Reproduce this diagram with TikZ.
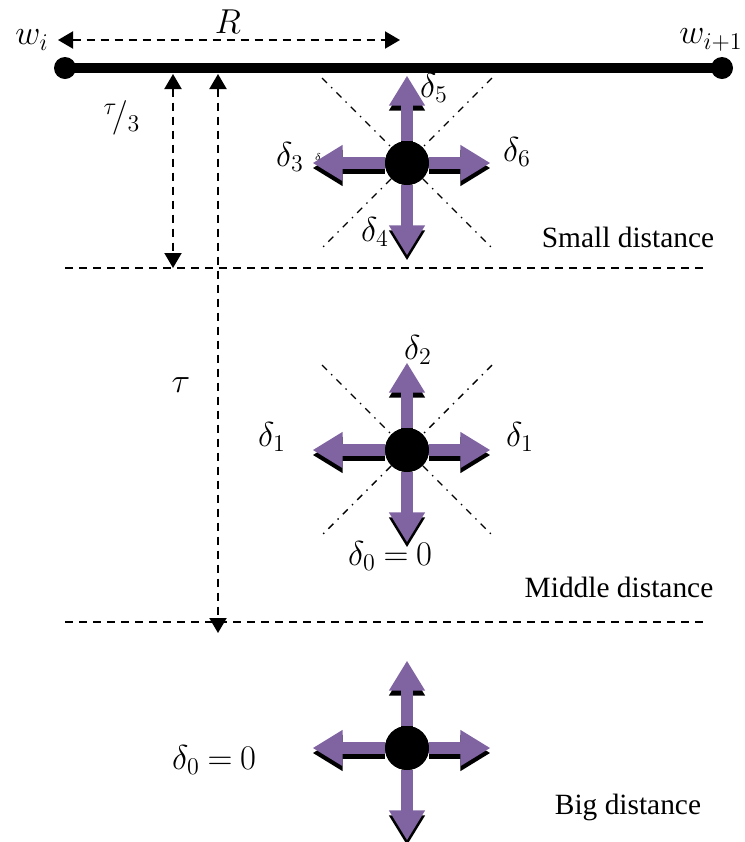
\documentclass[tikz,border=0pt]{standalone}
\usepackage{fontspec}
\setmainfont{Liberation Serif}
\usetikzlibrary{arrows.meta}
\definecolor{moveviolet}{RGB}{128,100,162}
\newcommand\zeroshift[1]{#1\mskip4mu{=}\mskip4mu 0}
\tikzset{
  dimline/.style={dash pattern=on 4pt off 3pt, line width=1pt,
    {Triangle[width=8.5pt,length=7.5pt]}-{Triangle[width=8.5pt,length=7.5pt]}},
  movearrow/.style={line width=6pt, -{Triangle[width=17pt,length=15pt]}},
  guide/.style={dash pattern=on 3.5pt off 3pt on 0.7pt off 3pt, line width=0.7pt},
  hub/.style={circle, fill=black, minimum size=22pt, inner sep=0pt},
  dot/.style={circle, fill=black, minimum size=11pt, inner sep=0pt},
  lbl/.style={font=\fontsize{14.7}{17}\selectfont, inner sep=0pt},
  mlbl/.style={font=\fontsize{18}{21}\selectfont, inner sep=0pt},
}
\begin{document}
\begin{tikzpicture}[x=0.5pt,y=-0.5pt]
  \useasboundingbox (0,0) rectangle (745,842);

  % segment w_i -- w_{i+1}
  \node[dot] (wi) at (65,68) {};
  \node[dot] (wj) at (722,68) {};
  \draw[line width=5pt] (wi.center) -- (wj.center);
  \node[mlbl] (lwi) at (32,40) {$w_i$};
  \node[mlbl] (lwj) at (711,40) {$w_{i+1}$};

  % radius R
  \coordinate (ra) at (58,40);
  \coordinate (rb) at (400,40);
  \draw[dimline] (ra) -- (rb);
  \node[mlbl] (lR) at (228,22) {$R$};

  % thresholds
  \coordinate (t3a) at (173,74);
  \coordinate (t3b) at (173,268);
  \coordinate (ta) at (218,74);
  \coordinate (tb) at (218,633);
  \draw[dimline] (t3a) -- (t3b);
  \draw[dimline] (ta) -- (tb);
  \node[mlbl] (lt3) at (122,118) {$^{\tau}\!/_{3}$};
  \node[mlbl] (lt) at (181,385) {$\tau$};

  \coordinate (s1) at (65,268);  \coordinate (s2) at (705,268);
  \coordinate (m1) at (65,622);  \coordinate (m2) at (705,622);
  \draw[dash pattern=on 4pt off 3pt, line width=1pt] (s1) -- (s2);
  \draw[dash pattern=on 4pt off 3pt, line width=1pt] (m1) -- (m2);

  % the three positions
  \foreach \n/\y in {cs/163, cm/450, cb/748}
    \node[hub] (\n) at (407,\y) {};

  \foreach \n in {cs, cm}{
    \draw[guide] ([shift={(-85,-85)}]\n.center) -- ([shift={(85,85)}]\n.center);
    \draw[guide] ([shift={(85,-85)}]\n.center) -- ([shift={(-85,85)}]\n.center);
  }

  \foreach \n in {cs, cm, cb}{
    % shadows
    \draw[movearrow, black] ([yshift=-2.5pt]\n.north) -- ++(0,-65);
    \draw[movearrow, black] ([yshift=-2.5pt]\n.south) -- ++(0,70);
    \draw[movearrow, black] ([yshift=-2.5pt]\n.west) -- ++(-72,0);
    \draw[movearrow, black] ([yshift=-2.5pt]\n.east) -- ++(61,0);
    % moves
    \draw[movearrow, moveviolet] (\n.north) -- ++(0,-65);
    \draw[movearrow, moveviolet] (\n.south) -- ++(0,70);
    \draw[movearrow, moveviolet] (\n.west) -- ++(-72,0);
    \draw[movearrow, moveviolet] (\n.east) -- ++(61,0);
    \node[hub] at (\n) {};
  }

  % labels, small distance
  \node[mlbl] (d5) at (434,88) {$\delta_5$};
  \node[mlbl] (d3) at (290,157) {$\delta_3$};
  \node[inner sep=0pt, font=\fontsize{4}{4}\selectfont] (dx) at (318,157) {$\delta$};
  \node[mlbl] (d6) at (517,152) {$\delta_6$};
  \node[mlbl] (d4) at (375,232) {$\delta_4$};
  \node[lbl] (ls) at (628,237) {Small distance};

  % labels, middle distance
  \node[mlbl] (d2) at (418,350) {$\delta_2$};
  \node[mlbl] (d1l) at (272,437) {$\delta_1$};
  \node[mlbl] (d1r) at (520,437) {$\delta_1$};
  \node[mlbl] (d0m) at (390,556) {$\zeroshift{\delta_0}$};
  \node[lbl] (lm) at (619,587) {Middle distance};

  % labels, big distance
  \node[mlbl] (d0b) at (214,760) {$\zeroshift{\delta_0}$};
  \node[lbl] (lb) at (628,807) {Big distance};
\end{tikzpicture}
\end{document}
